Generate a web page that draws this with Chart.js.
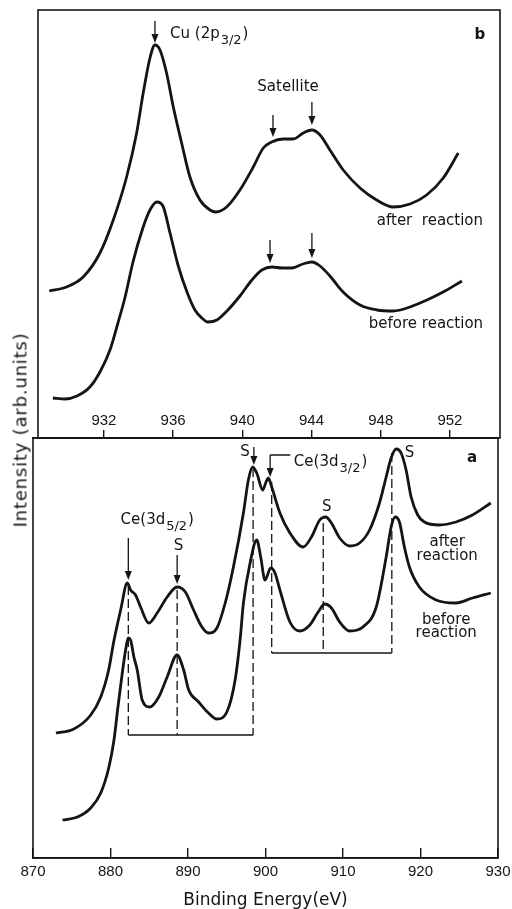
<!DOCTYPE html>
<html>
<head>
<meta charset="utf-8">
<script src="https://cdn.jsdelivr.net/npm/chart.js@4"></script>
<style>
  body { margin: 0; background: #fff; }
  #wrap { position: relative; width: 512px; height: 909px; }
  canvas { position: absolute; left: 0; }
  #top-chart { top: 0; }
  #bottom-chart { top: 400px; }
  #y-title { position: absolute; left: 20px; top: 430px; transform: translate(-50%, -50%) rotate(-90deg);
             font: 18px "DejaVu Sans"; letter-spacing: 0.8px; white-space: nowrap; color: #141414; }
</style>
</head>
<body>
<div id="wrap">
  <canvas id="top-chart" width="512" height="440"></canvas>
  <canvas id="bottom-chart" width="512" height="509"></canvas>
  <div id="y-title">Intensity (arb.units)</div>
</div>
<script>
// panel b: Cu 2p3/2 region (binding energy eV, intensity arb. units)
const cuAfterE = [928.84, 929.84, 930.80, 931.77, 932.54, 933.31, 933.89, 934.27, 934.66, 934.95, 935.24, 935.62, 936.01, 936.49, 936.97, 937.55, 938.13, 938.47, 939.09, 939.86, 940.63, 941.21, 941.69, 942.36, 942.94, 943.52, 944.01, 944.49, 945.06, 945.83, 946.80, 947.76, 948.72, 949.69, 950.65, 951.61, 952.48];
const cuAfterI = [147, 151, 161, 185, 218, 261, 305, 345, 380, 393, 388, 365, 331, 295, 261, 238, 228, 226, 231, 248, 271, 290, 296, 299, 299, 305, 308, 303, 288, 268, 250, 238, 231, 234, 243, 260, 285];
const cuBeforeE = [929.05, 929.75, 930.44, 931.19, 931.77, 932.35, 932.81, 933.21, 933.68, 934.25, 934.66, 935.06, 935.41, 935.82, 936.28, 936.80, 937.26, 937.66, 938.01, 938.53, 939.11, 939.86, 940.55, 941.13, 941.71, 942.29, 942.87, 943.50, 944.02, 944.49, 945.06, 945.82, 946.80, 947.78, 948.71, 949.69, 950.67, 951.71, 952.69];
const cuBeforeI = [40, 39, 42, 51, 66, 88, 115, 140, 176, 210, 228, 236, 232, 205, 173, 146, 128, 120, 116, 118, 127, 142, 158, 168, 171, 170, 170, 174, 176, 172, 162, 146, 133, 128, 127, 131, 138, 147, 157];

// panel a: Ce 3d region
const ceAfterE = [872.96, 875.27, 877.45, 878.74, 879.76, 880.41, 881.31, 882.17, 882.59, 883.23, 883.88, 884.94, 886.02, 887.31, 888.59, 889.66, 890.72, 891.80, 892.65, 893.73, 894.80, 895.86, 897.15, 897.79, 898.33, 898.87, 899.64, 900.07, 900.36, 900.80, 901.86, 903.15, 904.86, 905.93, 907.00, 907.77, 908.50, 909.57, 910.86, 912.14, 913.43, 914.71, 915.57, 916.21, 916.86, 917.50, 918.14, 918.79, 919.64, 920.50, 922.42, 924.57, 926.70, 929.07];
const ceAfterI = [125, 129, 143, 161, 188, 216, 248, 275, 268, 263, 251, 235, 245, 261, 271, 266, 248, 231, 225, 230, 255, 291, 345, 378, 391, 385, 368, 376, 380, 371, 345, 325, 311, 321, 338, 341, 335, 320, 312, 315, 328, 355, 381, 400, 409, 405, 388, 361, 343, 336, 333, 336, 343, 355];
const ceBeforeE = [873.81, 875.74, 877.45, 878.74, 879.80, 880.45, 880.96, 881.52, 881.95, 882.29, 882.59, 883.02, 883.45, 884.09, 885.07, 886.23, 887.31, 888.59, 889.44, 890.09, 891.37, 892.65, 893.73, 895.01, 896.08, 896.72, 897.15, 898.01, 898.87, 899.38, 899.94, 900.67, 901.22, 901.86, 903.15, 904.43, 905.72, 906.79, 907.65, 908.51, 909.57, 910.86, 912.57, 914.29, 915.57, 916.21, 916.73, 917.28, 917.92, 918.57, 919.85, 922.00, 924.57, 926.70, 929.07];
const ceBeforeI = [38, 41, 50, 65, 91, 118, 151, 185, 208, 220, 218, 201, 188, 158, 151, 161, 181, 203, 188, 168, 156, 145, 139, 146, 178, 218, 255, 295, 318, 301, 278, 290, 285, 268, 236, 227, 233, 246, 254, 250, 236, 227, 231, 251, 301, 331, 341, 336, 311, 291, 271, 258, 255, 260, 265];

const cuTicks = [932, 936, 940, 944, 948, 952];
const ceTicks = [870, 880, 890, 900, 910, 920, 930];

// annotations, in data units [energy, intensity]
const cuNotes = {
    arrows: [[934.95, 417, 395], [941.77, 323, 301], [944.02, 336, 313], [941.6, 198, 175], [944.02, 205, 180]],
    labels: [
        { text: 'Cu (2p', sub: '3/2', tail: ')', x: 935.82, y: 404, align: 'left' },
        { text: 'b', x: 953.73, y: 403, bold: true },
        { text: 'Satellite', x: 942.64, y: 351 },
        { text: 'after  reaction', x: 950.84, y: 217 },
        { text: 'before reaction', x: 950.61, y: 114 }
    ]
};
const ceNotes = {
    guides: [[882.3, 272, 123], [888.6, 268, 123], [898.4, 390, 123], [900.8, 376, 205], [907.45, 335, 205], [916.3, 405, 205]],
    paths: [[[882.3, 123], [898.4, 123]], [[900.8, 205], [916.3, 205]], [[903.2, 403], [900.6, 403]]],
    arrows: [[882.3, 320, 278], [888.6, 303, 274], [898.5, 411, 393], [900.6, 403, 381]],
    labels: [
        { text: 'a', x: 926.66, y: 400, bold: true },
        { text: 'Ce(3d', sub: '5/2', tail: ')', x: 881.3, y: 338, align: 'left' },
        { text: 'S', x: 888.76, y: 312 },
        { text: 'S', x: 897.37, y: 406 },
        { text: 'Ce(3d', sub: '3/2', tail: ')', x: 903.66, y: 396, align: 'left' },
        { text: 'S', x: 907.9, y: 351 },
        { text: 'S', x: 918.57, y: 405 },
        { text: 'after', x: 923.45, y: 316 },
        { text: 'reaction', x: 923.45, y: 302 },
        { text: 'before', x: 923.32, y: 238 },
        { text: 'reaction', x: 923.32, y: 225 }
    ]
};

const INK = '#141414';
const LABEL_FONT = '15px "DejaVu Sans"';
const TICK_FONT = { family: 'Liberation Sans', size: 15 };

function curve(xs, ys) {
    return {
        data: xs.map((x, i) => ({ x: x, y: ys[i] })),
        borderColor: INK,
        borderWidth: 2.8,
        pointRadius: 0,
        cubicInterpolationMode: 'monotone',
        fill: false
    };
}

//frame, dashed guides, arrows and labels
function makeOverlay(cfg) {
    return {
        id: 'overlay',
        beforeDatasetsDraw(chart) {
            const ctx = chart.ctx;
            const xs = chart.scales.x, ys = chart.scales.y;
            ctx.save();
            ctx.strokeStyle = INK;
            ctx.lineWidth = 1.3;
            ctx.setLineDash([9, 4]);
            (cfg.guides || []).forEach(g => {
                const px = xs.getPixelForValue(g[0]);
                ctx.beginPath();
                ctx.moveTo(px, ys.getPixelForValue(g[1]));
                ctx.lineTo(px, ys.getPixelForValue(g[2]));
                ctx.stroke();
            });
            ctx.setLineDash([]);
            ctx.lineWidth = 1.5;
            (cfg.paths || []).forEach(p => {
                ctx.beginPath();
                p.forEach((q, i) => {
                    const px = xs.getPixelForValue(q[0]), py = ys.getPixelForValue(q[1]);
                    if (i) ctx.lineTo(px, py); else ctx.moveTo(px, py);
                });
                ctx.stroke();
            });
            ctx.restore();
        },
        afterDatasetsDraw(chart) {
            const ctx = chart.ctx, a = chart.chartArea;
            const xs = chart.scales.x, ys = chart.scales.y;
            ctx.save();
            ctx.strokeStyle = INK;
            ctx.fillStyle = INK;
            ctx.lineWidth = 1.6;
            ctx.strokeRect(a.left, a.top, a.right - a.left, a.bottom - a.top);

            ctx.lineWidth = 1.3;
            cfg.arrows.forEach(([x, y1, y2]) => {
                const px = xs.getPixelForValue(x);
                const p1 = ys.getPixelForValue(y1), p2 = ys.getPixelForValue(y2);
                ctx.beginPath();
                ctx.moveTo(px, p1);
                ctx.lineTo(px, p2 - 6);
                ctx.stroke();
                ctx.beginPath();
                ctx.moveTo(px - 3.5, p2 - 9);
                ctx.lineTo(px + 3.5, p2 - 9);
                ctx.lineTo(px, p2);
                ctx.closePath();
                ctx.fill();
            });

            ctx.textBaseline = 'middle';
            cfg.labels.forEach(l => {
                ctx.font = (l.bold ? 'bold ' : '') + LABEL_FONT;
                ctx.textAlign = l.align || 'center';
                let px = xs.getPixelForValue(l.x);
                const py = ys.getPixelForValue(l.y);
                ctx.fillText(l.text, px, py);
                if (l.sub) {
                    ctx.textAlign = 'left';
                    px += ctx.measureText(l.text).width + 1;
                    ctx.font = '13px "DejaVu Sans"';
                    ctx.fillText(l.sub, px, py + 7);
                    px += ctx.measureText(l.sub).width + 1;
                    ctx.font = LABEL_FONT;
                    ctx.fillText(l.tail, px, py);
                }
            });
            ctx.restore();
        }
    };
}

const quiet = { legend: { display: false }, tooltip: { enabled: false } };

//top panel (b)
new Chart(document.getElementById('top-chart'), {
    type: 'line',
    data: { datasets: [curve(cuAfterE, cuAfterI), curve(cuBeforeE, cuBeforeI)] },
    options: {
        responsive: false,
        animation: false,
        layout: { padding: { left: 38, top: 10, right: 12, bottom: 2 } },
        scales: {
            x: { type: 'linear', display: false, min: 928.19, max: 954.89 },
            y: { display: false, min: 0, max: 428 }
        },
        plugins: quiet
    },
    plugins: [makeOverlay(cuNotes)]
});

//bottom panel (a), its top axis carries the Cu energy scale
new Chart(document.getElementById('bottom-chart'), {
    type: 'line',
    data: { datasets: [curve(ceAfterE, ceAfterI), curve(ceBeforeE, ceBeforeI)] },
    options: {
        responsive: false,
        animation: false,
        layout: { padding: { left: 33, top: 0, right: 14, bottom: 0 } },
        scales: {
            x: {
                type: 'linear', position: 'bottom', min: 870, max: 930,
                afterBuildTicks: s => { s.ticks = ceTicks.map(v => ({ value: v })); },
                afterFit: s => { s.height = 51; s.paddingLeft = 0; s.paddingRight = 0; },
                grid: { drawOnChartArea: false, tickLength: -10, color: INK, lineWidth: 1.4 },
                border: { color: INK, width: 1.6 },
                ticks: { padding: 15, color: INK, font: TICK_FONT, maxRotation: 0, autoSkip: false },
                title: { display: true, text: 'Binding Energy(eV)', color: INK, padding: 0,
                         font: { family: 'DejaVu Sans', size: 17, lineHeight: 1 } }
            },
            x2: {
                type: 'linear', position: 'top', min: 927.9, max: 954.78,
                afterBuildTicks: s => { s.ticks = cuTicks.map(v => ({ value: v })); },
                afterFit: s => { s.height = 38; s.paddingLeft = 0; s.paddingRight = 0; },
                grid: { drawOnChartArea: false, tickLength: 8, color: INK, lineWidth: 1.4 },
                border: { color: INK, width: 1.6 },
                ticks: { padding: 0, color: INK, font: TICK_FONT, maxRotation: 0, autoSkip: false }
            },
            y: { display: false, min: 0, max: 420 }
        },
        plugins: quiet
    },
    plugins: [makeOverlay(ceNotes)]
});
</script>
</body>
</html>
